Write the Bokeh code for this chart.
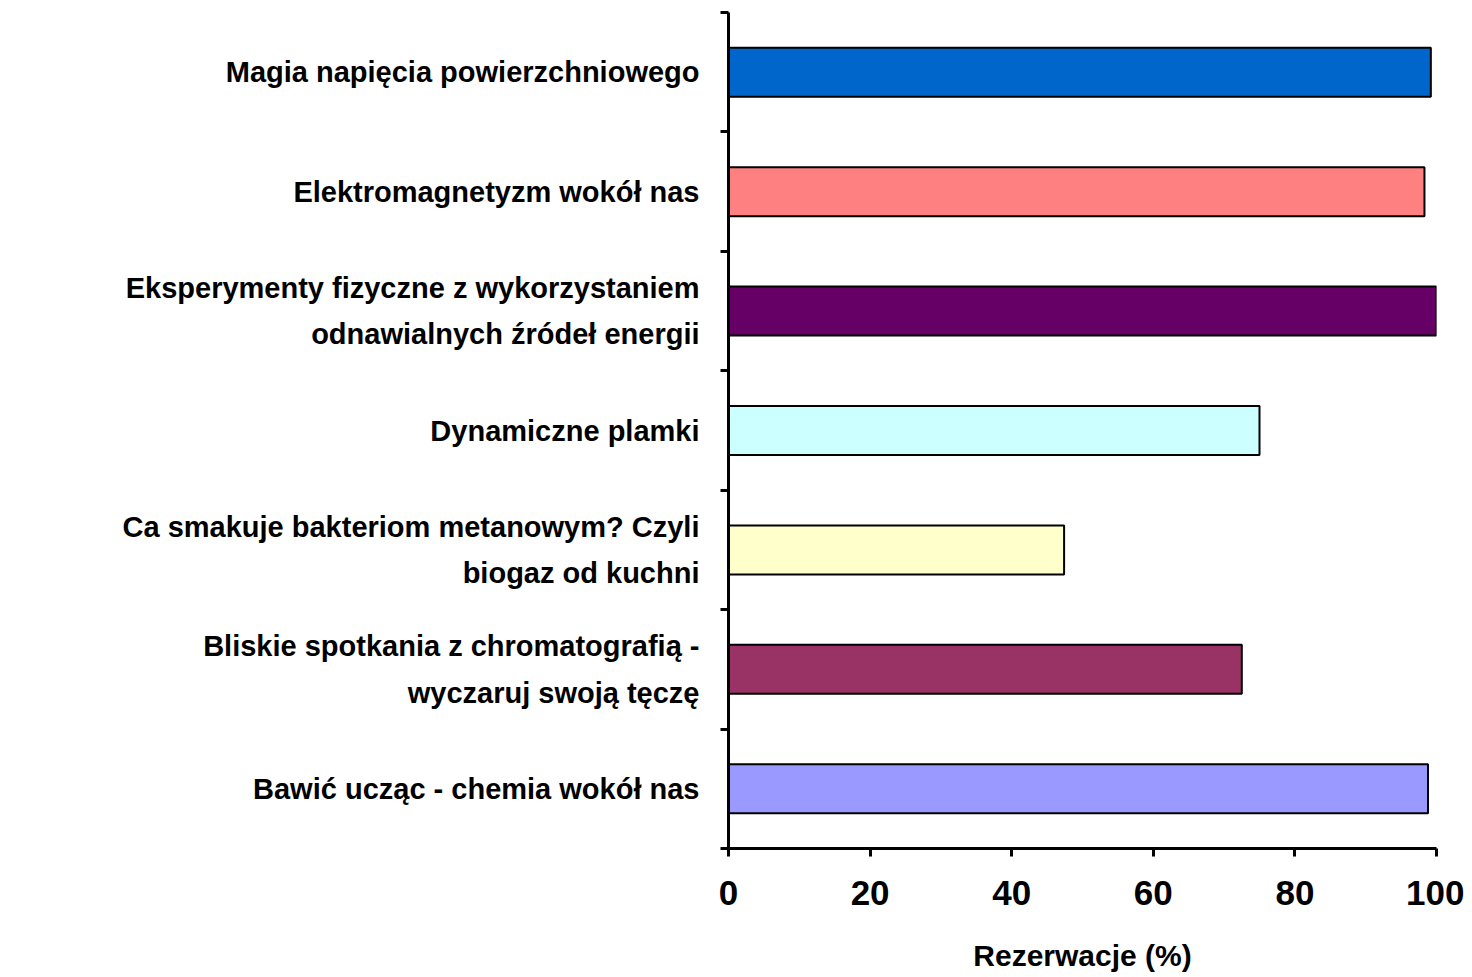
from bokeh.plotting import figure
from bokeh.models import Range1d, FixedTicker, ColumnDataSource
from bokeh.embed import file_html
from bokeh.resources import INLINE

categories = [
    "Magia napięcia powierzchniowego",
    "Elektromagnetyzm wokół nas",
    "Eksperymenty fizyczne z wykorzystaniem\nodnawialnych źródeł energii",
    "Dynamiczne plamki",
    "Ca smakuje bakteriom metanowym? Czyli\nbiogaz od kuchni",
    "Bliskie spotkania z chromatografią -\nwyczaruj swoją tęczę",
    "Bawić ucząc - chemia wokół nas",
]
values = [99.2, 98.3, 100.0, 75.0, 47.4, 72.5, 98.8]
colors = ["#0066CC", "#FF8080", "#660066", "#CCFFFF", "#FFFFCC", "#993366", "#9999FF"]
x_ticks = [0, 20, 40, 60, 80, 100]

n = len(categories)
ypos = [n - i - 0.5 for i in range(n)]
src = ColumnDataSource(dict(y=ypos, v=values, c=colors))

FONT = "Liberation Sans"

p = figure(frame_width=708, frame_height=836, output_backend="svg", toolbar_location=None,
           x_range=Range1d(0, 100), y_range=Range1d(0, n),
           min_border_left=728, min_border_right=28, min_border_top=12, min_border_bottom=10)
p.outline_line_color = None
p.xgrid.visible = False
p.ygrid.visible = False

p.hbar(y="y", right="v", left=0, height=0.41, fill_color="c", line_color="black",
       line_width=2, source=src)

# x axis
xa = p.xaxis[0]
xa.ticker = FixedTicker(ticks=x_ticks, minor_ticks=[])
xa.axis_line_width = 3
xa.major_tick_line_width = 3
xa.major_tick_out = 8
xa.major_tick_in = 0
xa.minor_tick_line_color = None
xa.major_label_text_font = FONT
xa.major_label_text_font_style = "bold"
xa.major_label_text_font_size = "35px"
xa.major_label_text_color = "black"
xa.major_label_standoff = 24
xa.axis_label = "Rezerwacje (%)"
xa.axis_label_text_font = FONT
xa.axis_label_text_font_style = "bold"
xa.axis_label_text_font_size = "30px"
xa.axis_label_text_color = "black"
xa.axis_label_standoff = 31

# y axis: labels at category centres, tick marks at boundaries (minor ticks)
ya = p.yaxis[0]
ya.ticker = FixedTicker(ticks=ypos, minor_ticks=list(range(n + 1)))
ya.major_label_overrides = {y: c for y, c in zip(ypos, categories)}
ya.axis_line_width = 3
ya.major_tick_line_color = None
ya.major_tick_out = 0
ya.major_tick_in = 0
ya.minor_tick_line_width = 3
ya.minor_tick_line_color = "black"
ya.minor_tick_out = 8
ya.minor_tick_in = 0
ya.major_label_text_font = FONT
ya.major_label_text_font_style = "bold"
ya.major_label_text_font_size = "29px"
ya.major_label_text_color = "black"
ya.major_label_text_align = "right"
ya.major_label_text_line_height = 1.45
ya.major_label_standoff = 21

open("out.html", "w").write(file_html(p, INLINE))
